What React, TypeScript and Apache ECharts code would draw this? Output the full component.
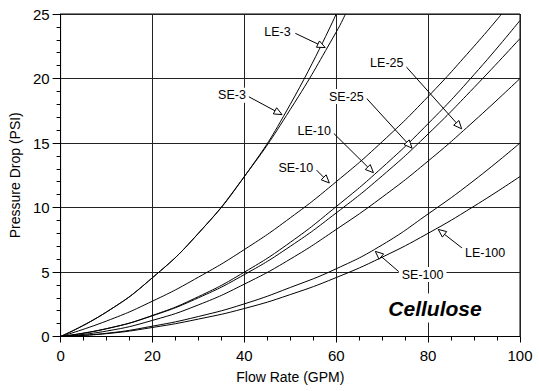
import React, { useEffect, useRef } from 'react';
import * as echarts from 'echarts';

// Flow rate (GPM) / pressure drop (PSI)
const flowSE3 = [0, 10, 20, 30, 40, 50, 60];
const dropSE3 = [0, 1.9, 4.56, 8.0, 12.4, 18.0, 25.0];
const flowLE3 = [0, 10, 20, 30, 40, 50, 60, 62];
const dropLE3 = [0, 1.9, 4.56, 8.0, 12.4, 17.6, 23.6, 25.0];
const flowSE10 = [0, 10, 20, 30, 40, 50, 60, 70, 80, 90, 96];
const dropSE10 = [0, 1.2, 2.74, 4.6, 6.74, 9.2, 12.0, 15.1, 18.6, 22.5, 25.0];
const flowStd = [0, 10, 20, 30, 40, 50, 60, 70, 80, 90, 100];
const dropLE10 = [0, 0.6, 1.63, 3.09, 4.99, 7.3, 10.07, 13.1, 16.5, 20.3, 24.5];
const dropSE25 = [0, 0.61, 1.61, 3.0, 4.8, 6.99, 9.58, 12.45, 15.7, 19.3, 23.1];
const dropLE25 = [0, 0.42, 1.25, 2.45, 4.06, 6.0, 8.3, 10.8, 13.6, 16.7, 20.0];
const dropSE100 = [0, 0.25, 0.8, 1.55, 2.53, 3.8, 5.25, 7.1, 9.5, 12.1, 15.0];
const dropLE100 = [0, 0.22, 0.7, 1.35, 2.17, 3.25, 4.57, 6.15, 8.0, 10.1, 12.4];

// Annotations (data coordinates): label centre, arrow start, arrow tip
const annotationNames = ['LE-3', 'SE-3', 'LE-25', 'SE-25', 'LE-10', 'SE-10', 'LE-100', 'SE-100'];
const annotationLabel = [
  [47.2, 23.6], [37.3, 18.7], [71.0, 21.2], [62.2, 18.6],
  [55.2, 15.9], [51.2, 13.1], [92.4, 6.5], [78.8, 4.8],
];
const annotationFrom = [
  [51.1, 23.5], [40.9, 18.6], [75.0, 21.0], [66.5, 18.5],
  [59.3, 15.8], [55.7, 12.9], [87.6, 6.8], [73.7, 5.0],
];
const annotationTo = [
  [57.6, 22.4], [48.2, 17.2], [87.3, 16.1], [76.5, 14.6],
  [68.1, 12.7], [58.5, 11.9], [82.2, 8.3], [68.5, 6.6],
];

const xTicks = { min: 0, max: 100, interval: 20 };
const yTicks = { min: 0, max: 25, interval: 5 };

const FONT = '"Liberation Sans", Arial, sans-serif';

function pairs(xs: number[], ys: number[]) {
  return xs.map((x, i) => [x, ys[i]]);
}

export default function App() {
  const ref = useRef<HTMLDivElement>(null);

  useEffect(() => {
    if (!ref.current) return;
    const chart = echarts.init(ref.current, undefined, { renderer: 'svg' });

    const curves = [
      { name: 'SE-3', data: pairs(flowSE3, dropSE3) },
      { name: 'LE-3', data: pairs(flowLE3, dropLE3) },
      { name: 'SE-10', data: pairs(flowSE10, dropSE10) },
      { name: 'LE-10', data: pairs(flowStd, dropLE10) },
      { name: 'SE-25', data: pairs(flowStd, dropSE25) },
      { name: 'LE-25', data: pairs(flowStd, dropLE25) },
      { name: 'SE-100', data: pairs(flowStd, dropSE100) },
      { name: 'LE-100', data: pairs(flowStd, dropLE100) },
    ];

    const annData = annotationNames.map((_, i) => [
      annotationLabel[i][0], annotationLabel[i][1],
      annotationFrom[i][0], annotationFrom[i][1],
      annotationTo[i][0], annotationTo[i][1],
    ]);

    chart.setOption({
      animation: false,
      backgroundColor: '#fff',
      grid: {
        left: 60, right: 19, top: 14, bottom: 54.5,
        show: true, borderColor: '#000', borderWidth: 1,
      },
      xAxis: {
        type: 'value',
        ...xTicks,
        name: 'Flow Rate (GPM)',
        nameLocation: 'middle',
        nameGap: 33,
        nameTextStyle: { color: '#000', fontSize: 14, fontFamily: FONT },
        axisLine: { show: true, lineStyle: { color: '#000', width: 1 } },
        axisTick: { show: true, length: 6, lineStyle: { color: '#000' } },
        minorTick: { show: true, splitNumber: 4, length: 4, lineStyle: { color: '#000' } },
        axisLabel: { color: '#000', fontSize: 15, fontFamily: FONT, margin: 11 },
        splitLine: { show: true, lineStyle: { color: '#222', width: 1 } },
      },
      yAxis: {
        type: 'value',
        ...yTicks,
        name: 'Pressure Drop (PSI)',
        nameLocation: 'middle',
        nameGap: 33,
        nameTextStyle: { color: '#000', fontSize: 14, fontFamily: FONT },
        axisLine: { show: true, lineStyle: { color: '#000', width: 1 } },
        axisTick: { show: true, length: 8, lineStyle: { color: '#000' } },
        minorTick: { show: true, splitNumber: 5, length: 4, lineStyle: { color: '#000' } },
        axisLabel: { color: '#000', fontSize: 15, fontFamily: FONT, margin: 11 },
        splitLine: { show: true, lineStyle: { color: '#222', width: 1 } },
      },
      series: [
        ...curves.map((c) => ({
          type: 'line',
          name: c.name,
          data: c.data,
          smooth: 0.5,
          showSymbol: false,
          symbol: 'none',
          clip: true,
          lineStyle: { color: '#000', width: 1 },
          z: 3,
        })),
        {
          type: 'custom',
          name: 'annotations',
          z: 10,
          data: annData,
          renderItem: (params: any, api: any) => {
            const i = params.dataIndex;
            const lab = api.coord([api.value(0), api.value(1)]);
            const from = api.coord([api.value(2), api.value(3)]);
            const to = api.coord([api.value(4), api.value(5)]);
            const dx = to[0] - from[0];
            const dy = to[1] - from[1];
            const len = Math.hypot(dx, dy) || 1;
            const ux = dx / len;
            const uy = dy / len;
            const L = 8;
            const W = 3.5;
            const bx = to[0] - ux * L;
            const by = to[1] - uy * L;
            const nx = -uy;
            const ny = ux;
            return {
              type: 'group',
              children: [
                {
                  type: 'line',
                  shape: { x1: from[0], y1: from[1], x2: bx, y2: by },
                  style: { stroke: '#000', lineWidth: 1 },
                },
                {
                  type: 'polygon',
                  shape: { points: [[to[0], to[1]], [bx + nx * W, by + ny * W], [bx - nx * W, by - ny * W]] },
                  style: { fill: '#fff', stroke: '#000', lineWidth: 1 },
                },
                {
                  type: 'text',
                  x: lab[0],
                  y: lab[1],
                  style: {
                    text: annotationNames[i],
                    fill: '#000',
                    font: `12.5px ${FONT}`,
                    align: 'center',
                    verticalAlign: 'middle',
                    backgroundColor: '#fff',
                    padding: [1, 3],
                  },
                },
              ],
            };
          },
        },
      ],
      graphic: [
        {
          type: 'text',
          x: 435,
          y: 308,
          z: 100,
          style: {
            text: 'Cellulose',
            fill: '#000',
            font: `italic bold 21px ${FONT}`,
            align: 'center',
            verticalAlign: 'middle',
            backgroundColor: '#fff',
            padding: [4, 3],
          },
        },
      ],
    });

    return () => chart.dispose();
  }, []);

  return (
    <div
      ref={ref}
      style={{ position: 'fixed', left: 0, top: 0, width: 539, height: 391, background: '#fff' }}
    />
  );
}
